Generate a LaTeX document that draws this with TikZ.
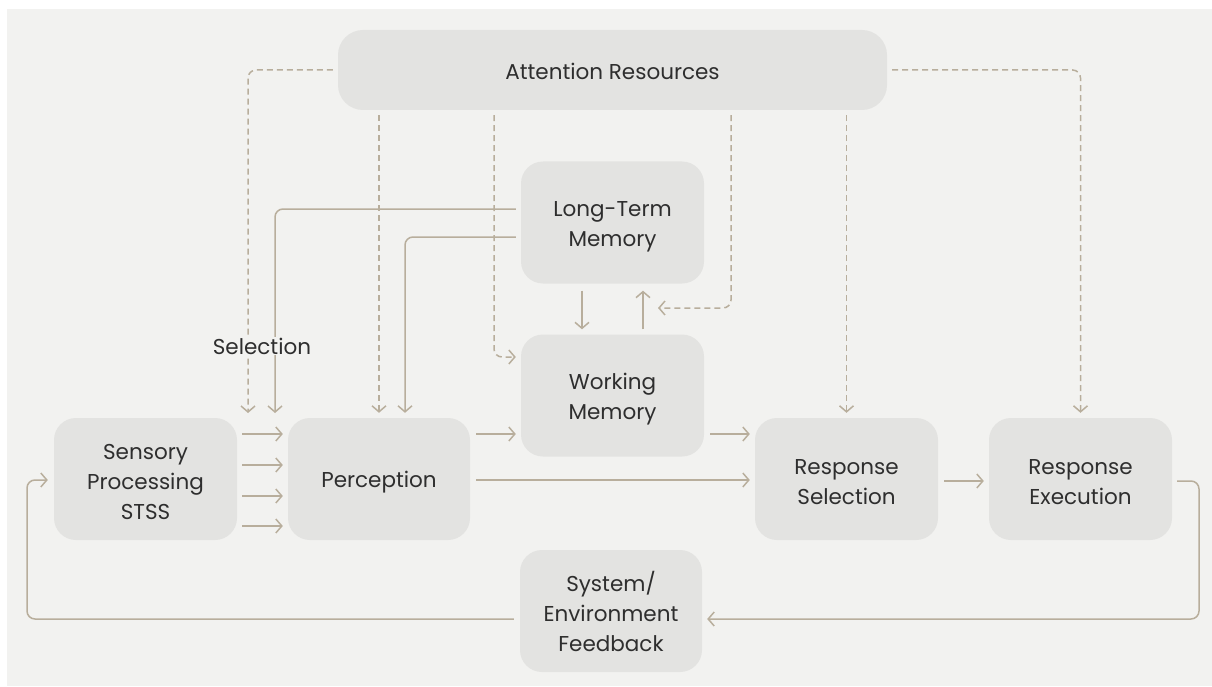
\documentclass[tikz,border=0pt]{standalone}
\usepackage{fontspec}
\setmainfont{Poppins}
\usetikzlibrary{arrows.meta,calc}

\definecolor{canvas}{HTML}{F2F2F0}
\definecolor{boxfill}{HTML}{E3E3E1}
\definecolor{wire}{HTML}{B8AE9C}
\definecolor{ink}{HTML}{2E2E2E}

% line strut: every text line gets the same height and depth
\newcommand\st{\rule[-3pt]{0pt}{26pt}}

\tikzset{
  stage/.style={rounded corners=22pt, fill=boxfill, draw=none,
    minimum width=183pt, minimum height=122pt, align=center,
    text=ink, font=\fontsize{21.5}{30}\selectfont, inner sep=0pt},
  flow/.style={draw=wire, line width=1.5pt,
    -{Straight Barb[length=6pt,width=14pt,line width=1.5pt]},
    rounded corners=8pt},
  attn/.style={flow, dash pattern=on 6pt off 4pt}
}

\begin{document}
\begin{tikzpicture}[x=1pt, y=-1pt]
  \useasboundingbox (0,0) rectangle (1212,687);
  \fill[canvas] (7,9) rectangle (1212,686);

  % stages
  \node[stage, minimum width=549pt, minimum height=80pt, rounded corners=25pt]
       (att) at (612.5,70) {\st Attention Resources};
  \node[stage] (ltm)  at (612.5,222.5) {\st Long-Term\\\st Memory};
  \node[stage] (wm)   at (612.5,395.5) {\st Working\\\st Memory};
  \node[stage] (sens) at (145.5,479)   {\st Sensory\\\st Processing\\\st STSS};
  \node[stage, minimum width=182pt] (perc) at (379,479) {\st Perception};
  \node[stage] (rs)   at (846.5,479)   {\st Response\\\st Selection};
  \node[stage] (re)   at (1080.5,479)  {\st Response\\\st Execution};
  \node[stage, minimum width=182pt] (fb) at (611,611)
       {\st System/\\\st Environment\\\st Feedback};

  % free ends of the selection arrows
  \coordinate (selA) at (248,413);
  \coordinate (selB) at (275,413);
  \coordinate (l1) at ($(ltm.west)+(-5,-13.5)$);
  \coordinate (l2) at ($(ltm.west)+(-5,14.5)$);
  \coordinate (cap) at (658,308);

  % attention: dashed control lines
  \draw[attn] ($(att.west)+(-5,0)$) -| (selA);
  \draw[attn] ($(att.south -| perc.north)+(0,5)$) -- ($(perc.north)+(0,-5)$);
  \draw[attn] ($(att.south)+(-118.5,5)$) |- ($(wm.west)+(-5,-38.5)$);
  \draw[attn] ($(att.south)+(118.5,5)$) |- (cap);
  \draw[attn] ($(att.south -| rs.north)+(0,5)$) -- ($(rs.north)+(0,-5)$);
  \draw[attn] ($(att.east)+(5,0)$) -| ($(re.north)+(0,-5)$);

  % long-term memory to selection and perception
  \draw[flow] (l1) -| (selB);
  \draw[flow] (l2) -| ($(perc.north)+(26,-5)$);

  % memory exchange
  \draw[flow] ($(ltm.south)+(-30.5,7)$) -- ($(wm.north)+(-30.5,-5)$);
  \draw[flow] ($(wm.north)+(30.5,-5)$) -- ($(ltm.south)+(30.5,7)$);

  % sensory channels into perception
  \foreach \yy in {434,465,496,526}
    \draw[flow] ($(sens.east |- 0,\yy)+(5,0)$) -- ($(perc.west |- 0,\yy)+(-5,0)$);

  % main flow
  \draw[flow] ($(perc.east |- 0,434)+(6,0)$) -- ($(wm.west |- 0,434)+(-5,0)$);
  \draw[flow] ($(perc.east)+(6,1)$) -- ($(rs.west)+(-5,1)$);
  \draw[flow] ($(wm.east |- 0,434)+(6,0)$) -- ($(rs.west |- 0,434)+(-5,0)$);
  \draw[flow] ($(rs.east)+(6,2)$) -- ($(re.west)+(-5,2)$);

  % feedback loop
  \draw[flow] ($(re.east)+(5,2)$) -- (1199,481) |- ($(fb.east |- 0,619)+(5,0)$);
  \draw[flow] ($(fb.west |- 0,619)+(-6,0)$) -| (27,480) -- ($(sens.west)+(-6,1)$);

  % label on the selection arrows
  \node[fill=canvas, text=ink, font=\fontsize{21.5}{24}\selectfont,
        inner sep=1pt] (sel) at (262,346) {Selection};
\end{tikzpicture}
\end{document}
